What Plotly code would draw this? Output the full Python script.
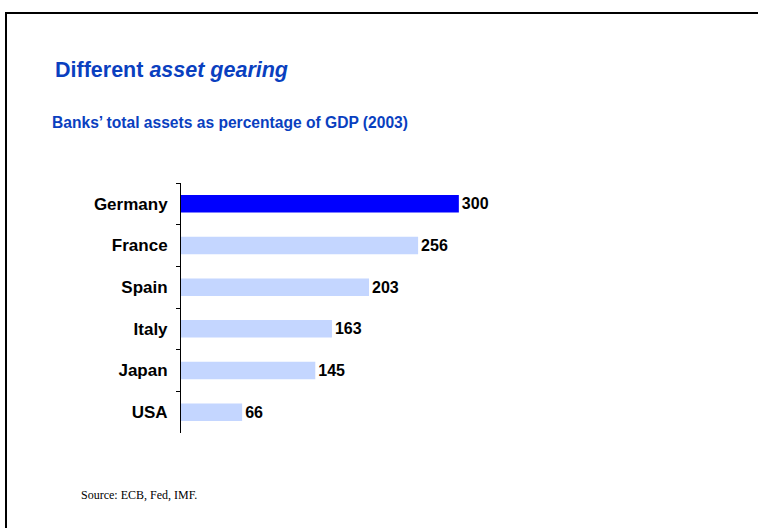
import plotly.graph_objects as go

# Banks' total assets as a percentage of GDP, 2003
countries = ["Germany", "France", "Spain", "Italy", "Japan", "USA"]
assets_pct_gdp = [300, 256, 203, 163, 145, 66]
highlight = "Germany"

W, H = 758, 528
DARK_BLUE = "#0000FF"
LIGHT_BLUE = "#C4D6FF"
TITLE_BLUE = "#0A3FBF"

bar_colors = [DARK_BLUE if c == highlight else LIGHT_BLUE for c in countries]

fig = go.Figure(
    go.Bar(
        x=assets_pct_gdp,
        y=countries,
        orientation="h",
        marker=dict(color=bar_colors, line=dict(width=0)),
        text=[str(v) for v in assets_pct_gdp],
        textposition="outside",
        textfont=dict(family="Liberation Sans, Arial, sans-serif", size=16, color="black"),
        texttemplate="<b>%{text}</b>",
        cliponaxis=False,
        hoverinfo="skip",
    )
)


def px_x(px):
    return px / W


def px_y(py):
    return 1 - py / H


fig.update_layout(
    width=W,
    height=H,
    margin=dict(l=0, r=0, t=0, b=0),
    paper_bgcolor="white",
    plot_bgcolor="white",
    showlegend=False,
    bargap=0.58,
    xaxis=dict(
        domain=[px_x(181), px_x(620)],
        range=[0, 474],
        visible=False,
    ),
    yaxis=dict(
        domain=[px_y(433), px_y(183)],
        type="category",
        categoryorder="array",
        categoryarray=countries,
        autorange="reversed",
        showline=True,
        linecolor="black",
        linewidth=1,
        ticks="outside",
        tickson="boundaries",
        ticklen=4,
        tickcolor="black",
        tickwidth=1,
        showgrid=False,
        zeroline=False,
        ticklabelstandoff=9,
        tickfont=dict(family="Liberation Sans, Arial, sans-serif", size=17, color="black"),
        tickprefix="<b>",
        ticksuffix="</b>",
    ),
    font=dict(family="Liberation Sans, Arial, sans-serif"),
)

# Frame lines along the top and left edges of the slide
fig.add_shape(type="line", xref="paper", yref="paper",
              x0=px_x(5), x1=1, y0=px_y(13), y1=px_y(13),
              line=dict(color="black", width=2))
fig.add_shape(type="line", xref="paper", yref="paper",
              x0=px_x(6), x1=px_x(6), y0=px_y(13), y1=0,
              line=dict(color="black", width=2))

fig.add_annotation(
    text="<b>Different <i>asset gearing</i></b>",
    xref="paper", yref="paper", x=px_x(53), y=px_y(70),
    xanchor="left", yanchor="middle", showarrow=False,
    font=dict(family="Liberation Sans, Arial, sans-serif", size=21.5, color=TITLE_BLUE),
)
fig.add_annotation(
    text="<b>Banks’ total assets as percentage of GDP (2003)</b>",
    xref="paper", yref="paper", x=px_x(50), y=px_y(123),
    xanchor="left", yanchor="middle", showarrow=False,
    font=dict(family="Liberation Sans, Arial, sans-serif", size=15.6, color=TITLE_BLUE),
)
fig.add_annotation(
    text="Source: ECB, Fed, IMF.",
    xref="paper", yref="paper", x=px_x(79), y=px_y(495),
    xanchor="left", yanchor="middle", showarrow=False,
    font=dict(family="Liberation Serif, Times New Roman, serif", size=12, color="black"),
)

fig.write_html("out.html")
